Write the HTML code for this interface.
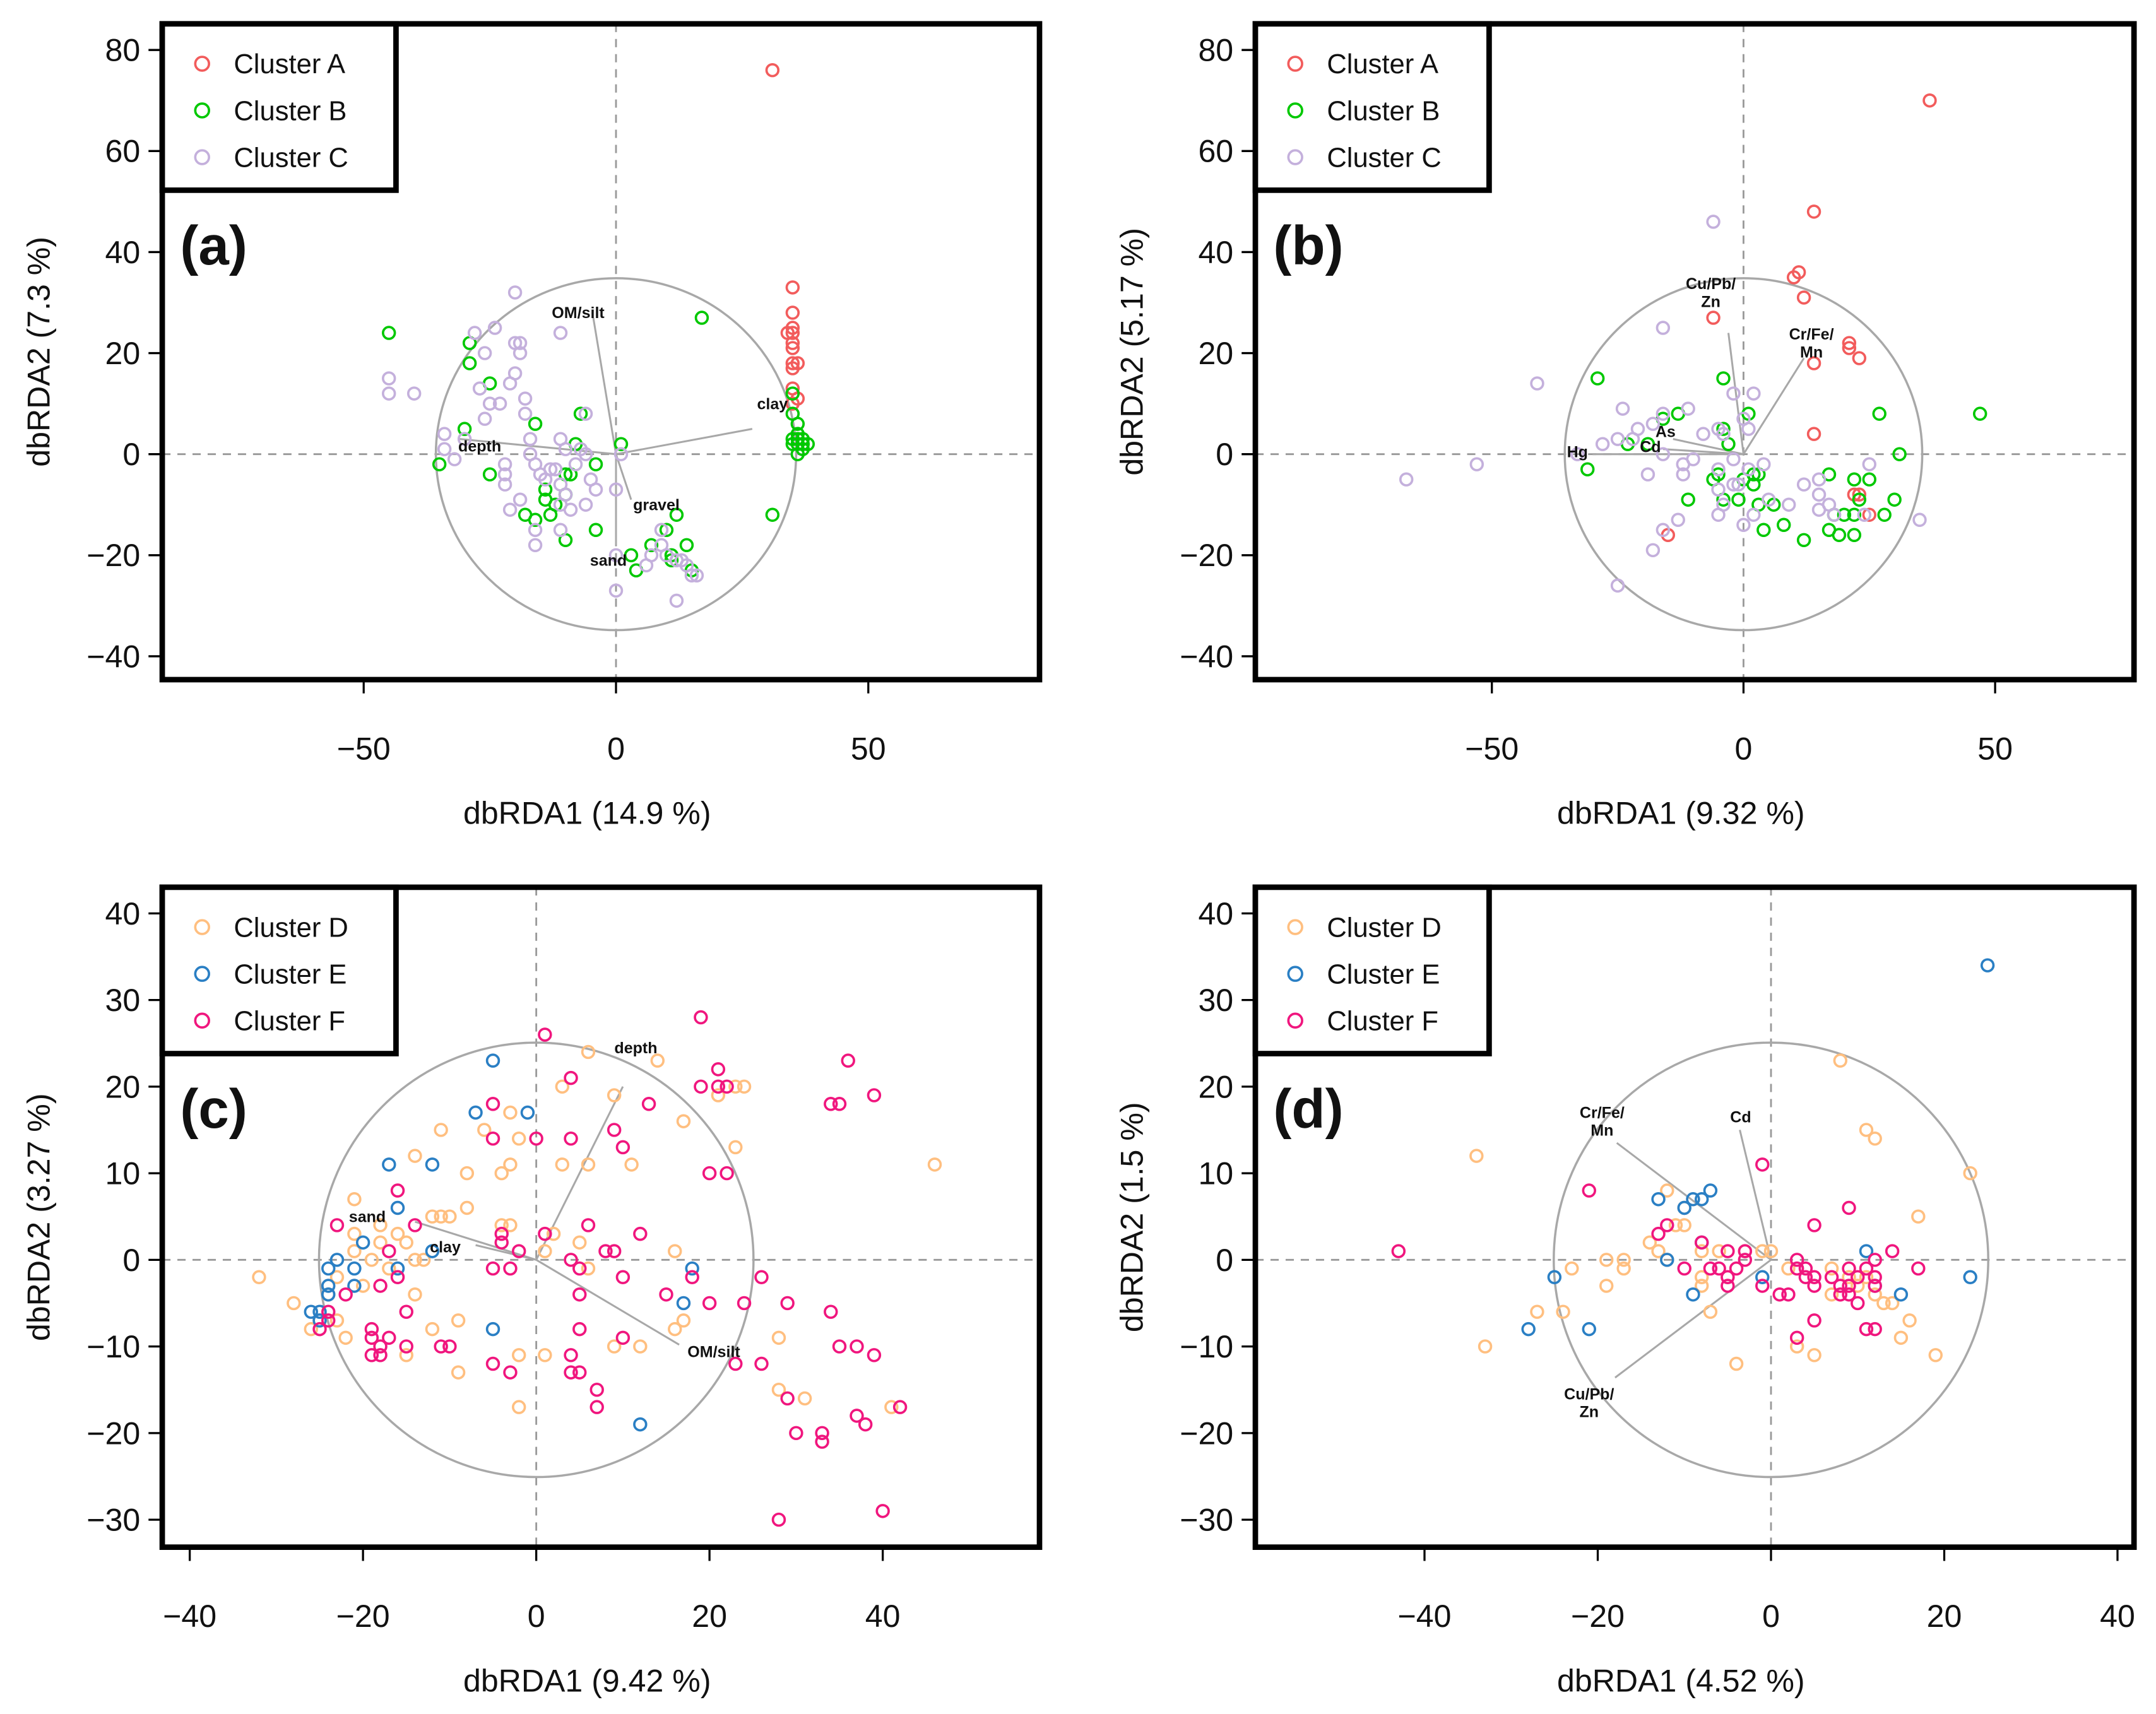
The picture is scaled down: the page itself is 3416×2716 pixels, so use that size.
<!DOCTYPE html>
<html><head><meta charset="utf-8">
<style>
html,body{margin:0;padding:0;background:#fff;}
svg{display:block;}
text{font-family:"Liberation Sans",sans-serif;}
</style></head>
<body>
<svg id="fig" xmlns="http://www.w3.org/2000/svg" width="3416" height="2716" viewBox="0 0 1568 1246"></svg>
<script>
// ---------- Panel (a) data ----------
const aClusterA = [[31,76],[35,33],[35,28],[35,25],[34,24],[35,24],[35,22],[35,21],[35,18],[36,18],[35,17],[35,13],[36,11],[35,10]];
const aClusterB = [[-45,24],[-29,22],[-29,18],[-25,14],[-16,6],[-7,8],[-8,2],[1,2],[17,27],[-35,-2],[-30,5],[-25,-4],[-9,-4],[-10,-4],[-4,-2],[-14,-7],[-14,-9],[-12,-10],[-13,-12],[-18,-12],[-16,-13],[-10,-8],[-10,-17],[-4,-15],[12,-12],[10,-15],[14,-18],[7,-18],[11,-20],[11,-21],[3,-20],[4,-23],[15,-23],[31,-12],[35,12],[35,8],[36,6],[36,4],[35,2],[36,2],[37,2],[38,2],[37,1],[36,3],[37,3],[35,3],[36,0]];
const aClusterC = [[-45,15],[-45,12],[-40,12],[-20,32],[-28,24],[-26,20],[-24,25],[-20,22],[-19,22],[-19,20],[-20,16],[-21,14],[-23,10],[-25,10],[-18,11],[-18,8],[-26,7],[-27,13],[-34,4],[-34,1],[-32,-1],[-30,3],[-22,-2],[-22,-4],[-22,-6],[-17,3],[-17,0],[-16,-2],[-15,-4],[-14,-5],[-11,3],[-10,1],[-12,-3],[-11,-6],[-10,-8],[-11,-10],[-9,-11],[-19,-9],[-21,-11],[-16,-15],[-16,-18],[-11,-15],[-6,-10],[-6,8],[-11,24],[-6,0],[-7,1],[-5,-5],[-4,-7],[0,-7],[1,0],[0,-20],[0,-27],[9,-15],[9,-18],[10,-20],[12,-21],[14,-22],[15,-24],[6,-22],[7,-20],[13,-21],[16,-24],[12,-29],[-8,-2],[-13,-3]];
const aVectors = [["OM/silt",-4.5,27,-7.5,28],["clay",27,5,31,10],["depth",-31,3,-27,1.6],["gravel",3,-9,8,-10],["sand",0,-18,-1.5,-21]];

// ---------- Panel (b) data ----------
const bClusterA = [[37,70],[14,48],[11,36],[10,35],[12,31],[-6,27],[21,22],[21,21],[23,19],[14,18],[14,4],[23,-8],[25,-12],[-15,-16],[22,-8]];
const bClusterB = [[-29,15],[-4,15],[1,8],[-16,7],[-13,8],[-23,2],[-19,2],[-31,-3],[-4,5],[-3,2],[27,8],[47,8],[31,0],[22,-5],[25,-5],[23,-9],[30,-9],[28,-12],[22,-12],[20,-12],[18,-12],[17,-4],[17,-15],[19,-16],[22,-16],[12,-17],[8,-14],[4,-15],[3,-10],[6,-10],[2,-6],[2,-4],[0,-5],[-1,-9],[-5,-4],[-4,-9],[-6,-5],[-11,-9],[3,-4]];
const bClusterC = [[-67,-5],[-53,-2],[-41,14],[-16,25],[-6,46],[-2,12],[2,12],[-24,9],[-11,9],[-16,8],[-18,6],[-21,5],[-22,3],[-25,3],[-28,2],[-33,0],[-16,0],[-12,-2],[-12,-4],[-8,4],[-5,5],[-4,4],[0,7],[1,5],[-1,-6],[-5,-3],[-5,-7],[-4,-10],[-2,-6],[1,-3],[4,-2],[-19,-4],[-13,-13],[-16,-15],[-18,-19],[-25,-26],[-5,-12],[0,-14],[2,-12],[5,-9],[9,-10],[12,-6],[15,-5],[15,-8],[15,-11],[17,-10],[18,-12],[24,-12],[25,-2],[35,-13],[-2,-1],[-10,-1]];
const bVectors = [["Cu/Pb/|Zn",-3,24,-6.5,32],["Cr/Fe/|Mn",12,19,13.5,22],["Hg",-30,0,-33,0.5],["As",-14,3,-15.5,4.5],["Cd",-16,1,-18.5,1.5]];

// ---------- Panel (c) data ----------
const cClusterD = [[-32,-2],[-28,-5],[-26,-8],[-25,-7],[-24,-4],[-23,-7],[-22,-9],[-21,3],[-21,1],[-20,-3],[-19,0],[-21,7],[-18,4],[-18,2],[-16,3],[-15,2],[-14,0],[-13,0],[-15,-11],[-14,-4],[-12,-8],[-12,5],[-11,5],[-10,5],[-8,6],[-8,10],[-9,-7],[-9,-13],[-14,12],[-11,15],[-6,15],[-4,10],[-4,4],[-3,4],[-3,11],[-3,17],[-2,14],[1,1],[2,3],[3,11],[3,20],[6,11],[6,24],[9,19],[11,11],[14,23],[17,16],[21,19],[23,20],[24,20],[23,13],[16,1],[16,-8],[17,-7],[6,-1],[5,2],[-2,-11],[1,-11],[-2,-17],[9,-10],[12,-10],[28,-9],[28,-15],[31,-16],[41,-17],[46,11],[-17,-1],[-23,-2]];
const cClusterE = [[-25,-6],[-25,-7],[-24,-4],[-24,-1],[-23,0],[-21,-3],[-21,-1],[-20,2],[-16,-1],[-16,6],[-17,11],[-12,11],[-12,1],[-7,17],[-5,23],[-1,17],[-5,-8],[17,-5],[18,-1],[12,-19],[-24,-3],[-26,-6]];
const cClusterF = [[1,26],[19,28],[-23,4],[-24,-6],[-25,-8],[-24,-7],[-22,-4],[-19,-8],[-19,-9],[-19,-11],[-18,-11],[-18,-10],[-17,-9],[-18,-3],[-16,-2],[-17,1],[-16,8],[-14,4],[-15,-6],[-15,-10],[-11,-10],[-10,-10],[-4,2],[-4,3],[-3,-1],[-2,1],[-5,-1],[0,14],[-5,14],[-5,18],[1,3],[4,21],[4,14],[5,-1],[4,0],[5,-4],[5,-8],[6,4],[8,1],[9,1],[10,-2],[9,15],[10,13],[12,3],[13,18],[10,-9],[-5,-12],[-3,-13],[4,-11],[4,-13],[5,-13],[7,-15],[7,-17],[15,-4],[18,-2],[20,-5],[19,20],[21,20],[21,22],[22,20],[22,10],[20,10],[23,-12],[24,-5],[26,-2],[26,-12],[29,-5],[29,-16],[30,-20],[33,-20],[33,-21],[34,-6],[34,18],[35,18],[35,-10],[36,23],[37,-18],[37,-10],[38,-19],[39,19],[39,-11],[42,-17],[40,-29],[28,-30]];
const cVectors = [["depth",10,20,11.5,24.5],["sand",-14,4.4,-19.5,5],["clay",-7,1.7,-10.5,1.5],["OM/silt",16.5,-9.8,20.5,-10.6]];

// ---------- Panel (d) data ----------
const dClusterD = [[-34,12],[-33,-10],[-27,-6],[-24,-6],[-23,-1],[-19,0],[-19,-3],[-17,0],[-17,-1],[-14,2],[-13,1],[-12,8],[-12,0],[-11,4],[-10,4],[-10,6],[-8,1],[-8,-2],[-8,-3],[-7,-6],[-6,1],[-3,1],[-1,1],[0,1],[2,-1],[5,-11],[-4,-12],[3,-10],[8,23],[11,15],[12,14],[23,10],[17,5],[19,-11],[16,-7],[15,-9],[13,-5],[12,-4],[11,-2],[9,-2],[7,-1],[7,-4],[10,-3],[14,-5]];
const dClusterE = [[25,34],[-28,-8],[-21,-8],[-25,-2],[-13,7],[-10,6],[-9,7],[-8,7],[-7,8],[-8,2],[-12,0],[-9,-4],[-1,-2],[11,1],[12,-3],[15,-4],[23,-2]];
const dClusterF = [[-43,1],[-21,8],[-13,3],[-12,4],[-8,2],[-7,-1],[-6,-1],[-5,1],[-5,-2],[-5,-3],[-4,-1],[-3,1],[-3,0],[-10,-1],[-1,11],[-1,-3],[1,-4],[2,-4],[3,-1],[3,0],[4,-2],[4,-1],[5,-2],[5,-3],[5,4],[5,-7],[3,-9],[7,-2],[8,-3],[8,-4],[9,-3],[9,-4],[9,6],[9,-1],[10,-2],[10,-5],[11,-1],[11,-8],[12,-8],[12,-3],[12,0],[14,1],[17,-1],[12,-2]];
const dVectors = [["Cr/Fe/|Mn",-17.8,13.5,-19.5,16],["Cd",-3.6,15,-3.5,16.5],["Cu/Pb/|Zn",-18,-13.6,-21,-16.5]];

// ---------- tick labels ----------
const abXTicks = [-50,0,50];
const abYTicks = [-40,-20,0,20,40,60,80];
const cdXTicks = [-40,-20,0,20,40];
const cdYTicks = [-30,-20,-10,0,10,20,30,40];

const NS = "http://www.w3.org/2000/svg";
const svg = document.getElementById('fig');
function mk(tag, attrs, parent){
  const e = document.createElementNS(NS, tag);
  for (const k in attrs) e.setAttribute(k, attrs[k]);
  (parent||svg).appendChild(e);
  return e;
}
const COL = {A:"#f25c5c",B:"#00c800",C:"#c4b0dc",D:"#ffbf80",E:"#2a7fc4",F:"#f0167e"};

function fmt(v){ return v<0 ? "\u2212"+(-v) : String(v); }

function panel(cfg){
  const g = mk('g',{});
  
  
  const X = v => cfg.x0 + v*cfg.sx;
  const Y = v => cfg.y0 - v*cfg.sy;
  // dashed axes
  const h = mk('line',{x1:cfg.L,x2:cfg.R,y1:Y(0),y2:Y(0),stroke:"#999","stroke-width":1.3,"stroke-dasharray":"6,5"},g);
  
  
  const v = mk('line',{x1:X(0),x2:X(0),y1:cfg.T,y2:cfg.B,stroke:"#999","stroke-width":1.3,"stroke-dasharray":"6,5"},g);
  
  
  // circle
  const c = mk('ellipse',{cx:X(0),cy:Y(0),rx:cfg.rx,ry:cfg.ry,fill:"none",stroke:"#a8a8a8","stroke-width":1.6},g);
  
  
  // vectors
  cfg.vectors.forEach(vec=>{
    const l = mk('line',{x1:X(0),y1:Y(0),x2:X(vec[1]),y2:Y(vec[2]),stroke:"#a8a8a8","stroke-width":1.4},g);
    
    
  });
  // points
  cfg.series.forEach(s=>{
    s.data.forEach(p=>{
      const pt = mk('circle',{cx:X(p[0]),cy:Y(p[1]),r:4.3,fill:"none",stroke:s.col,"stroke-width":1.7},g);
      
      
    });
  });
  // vector labels
  cfg.vectors.forEach(vec=>{
    const lines = vec[0].split('|');
    lines.forEach((ln,i)=>{
      const t = mk('text',{x:X(vec[3]),y:Y(vec[4])+4+(i-(lines.length-1)/2)*13,"text-anchor":"middle","font-size":11.5,"font-weight":"bold",fill:"#111"},g);
      t.textContent = ln;
      
      
    });
  });
  // frame
  const f = mk('rect',{x:cfg.L,y:cfg.T,width:cfg.R-cfg.L,height:cfg.B-cfg.T,fill:"none",stroke:"#000","stroke-width":4},g);
  
  
  // y ticks
  cfg.yt.forEach(tv=>{
    const tl = mk('line',{x1:cfg.L-10,x2:cfg.L,y1:Y(tv),y2:Y(tv),stroke:"#000","stroke-width":1.5},g);
    
    
    const tt = mk('text',{x:cfg.L-16,y:Y(tv)+8,"text-anchor":"end","font-size":23,fill:"#111"},g);
    tt.textContent = fmt(tv);
    
    
  });
  cfg.xt.forEach(tv=>{
    const tl = mk('line',{x1:X(tv),x2:X(tv),y1:cfg.B,y2:cfg.B+10,stroke:"#000","stroke-width":1.5},g);
    
    
    const tt = mk('text',{x:X(tv),y:cfg.B+58,"text-anchor":"middle","font-size":23,fill:"#111"},g);
    tt.textContent = fmt(tv);
    
    
  });
  const xl = mk('text',{x:(cfg.L+cfg.R)/2 - 10,y:cfg.B+105,"text-anchor":"middle","font-size":23,fill:"#111"},g);
  xl.textContent = cfg.xlab;
  
  
  const yx = cfg.L-82, yy=(cfg.T+cfg.B)/2;
  const yl = mk('text',{x:yx,y:yy,"text-anchor":"middle","font-size":23,fill:"#111",transform:`rotate(-90 ${yx} ${yy})`},g);
  yl.textContent = cfg.ylab;
  
  
  // legend
  const lg = mk('g',{},g);
  
  
  const lb = mk('rect',{x:cfg.L,y:cfg.T,width:170,height:121,fill:"#fff",stroke:"#000","stroke-width":4},lg);
  
  
  cfg.series.forEach((s,i)=>{
    const yy2 = cfg.T+29+i*34;
    const m = mk('circle',{cx:cfg.L+29,cy:yy2,r:5,fill:"none",stroke:s.col,"stroke-width":1.7},lg);
    
    
    const t = mk('text',{x:cfg.L+52,y:yy2+7,"font-size":20,fill:"#111"},lg);
    t.textContent = "Cluster "+s.key;
    
    
  });
  const pl = mk('text',{x:cfg.L+13,y:cfg.T+175,"font-size":40,"font-weight":"bold",fill:"#111"},g);
  pl.textContent = cfg.tag;
  
  
}

panel({name:'panel-a',tag:'(a)',L:118,R:756,T:17,B:494,x0:448,y0:330,sx:3.67,sy:3.675,rx:131,ry:128,
  xt:abXTicks,yt:abYTicks,xlab:"dbRDA1 (14.9 %)",ylab:"dbRDA2 (7.3 %)",vectors:aVectors,
  series:[{key:'A',col:COL.A,data:aClusterA},{key:'B',col:COL.B,data:aClusterB},{key:'C',col:COL.C,data:aClusterC}]});
panel({name:'panel-b',tag:'(b)',L:913,R:1552,T:17,B:494,x0:1268,y0:330,sx:3.66,sy:3.675,rx:130,ry:128,
  xt:abXTicks,yt:abYTicks,xlab:"dbRDA1 (9.32 %)",ylab:"dbRDA2 (5.17 %)",vectors:bVectors,
  series:[{key:'A',col:COL.A,data:bClusterA},{key:'B',col:COL.B,data:bClusterB},{key:'C',col:COL.C,data:bClusterC}]});
panel({name:'panel-c',tag:'(c)',L:118,R:756,T:645,B:1125,x0:390,y0:916,sx:6.3,sy:6.3,rx:158,ry:158,
  xt:cdXTicks,yt:cdYTicks,xlab:"dbRDA1 (9.42 %)",ylab:"dbRDA2 (3.27 %)",vectors:cVectors,
  series:[{key:'D',col:COL.D,data:cClusterD},{key:'E',col:COL.E,data:cClusterE},{key:'F',col:COL.F,data:cClusterF}]});
panel({name:'panel-d',tag:'(d)',L:913,R:1552,T:645,B:1125,x0:1288,y0:916,sx:6.3,sy:6.3,rx:158,ry:158,
  xt:cdXTicks,yt:cdYTicks,xlab:"dbRDA1 (4.52 %)",ylab:"dbRDA2 (1.5 %)",vectors:dVectors,
  series:[{key:'D',col:COL.D,data:dClusterD},{key:'E',col:COL.E,data:dClusterE},{key:'F',col:COL.F,data:dClusterF}]});
</script>
</body></html>
